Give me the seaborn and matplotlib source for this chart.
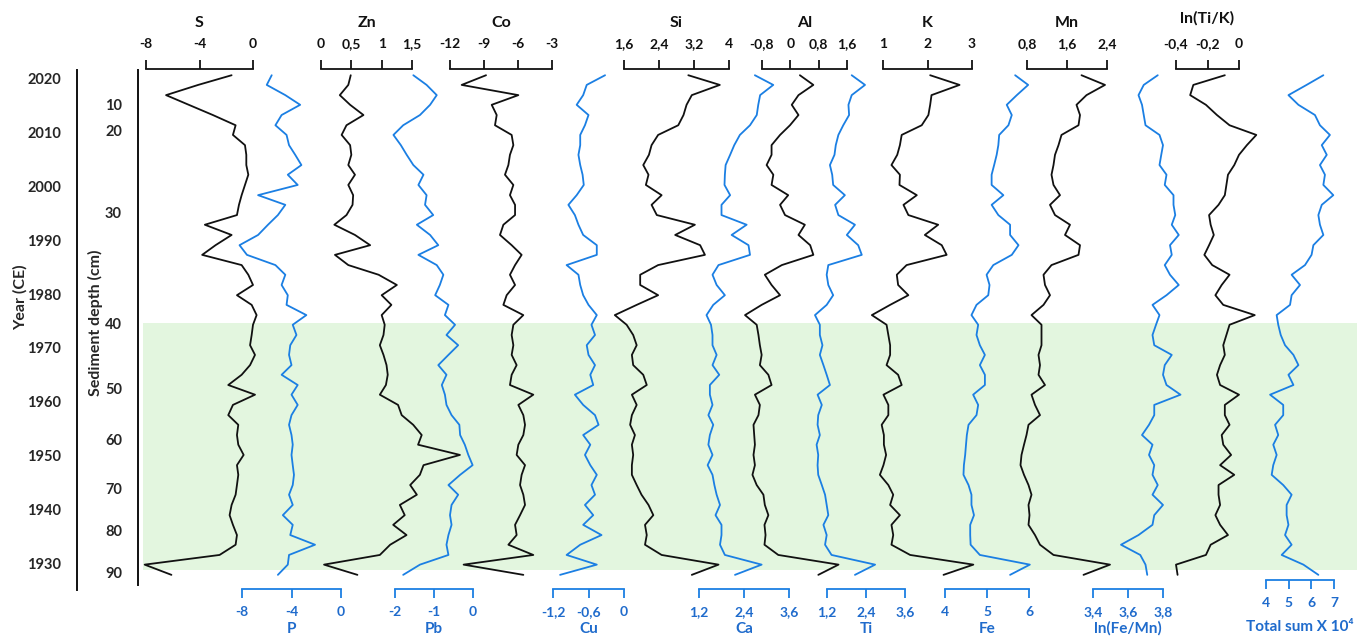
import matplotlib
matplotlib.use("Agg")
import matplotlib.pyplot as plt
import seaborn as sns

# sample ages (year CE) shared by all profiles, top to bottom
years = [2020.7, 2018.9, 2017.0, 2015.2, 2013.3, 2011.4, 2009.6, 2007.7, 2005.9, 2004.0,
         2002.2, 2000.3, 1998.4, 1996.6, 1994.7, 1992.9, 1991.0, 1989.1, 1987.3, 1985.4,
         1983.6, 1981.7, 1979.8, 1978.0, 1976.1, 1974.3, 1972.4, 1970.5, 1968.7, 1966.8,
         1965.0, 1963.1, 1961.3, 1959.4, 1957.5, 1955.7, 1953.8, 1952.0, 1950.1, 1948.2,
         1946.4, 1944.5, 1942.7, 1940.8, 1938.9, 1937.1, 1935.2, 1933.4, 1931.5, 1929.7, 1927.8]

s_vals = [-1.6, -4.1, -6.5, -4.8, -3.0, -1.3, -1.5, -0.6, -0.5, -0.5,
          -0.35, -0.6, -0.85, -1.05, -1.2, -3.6, -1.6, -2.8, -3.8, -0.85,
          -0.35, 0.0, -1.2, -0.1, 0.27, 0.0, -0.1, -0.22, 0.15, -0.22,
          -0.85, -1.85, 0.15, -1.5, -1.85, -1.1, -1.2, -1.1, -0.7, -1.2,
          -1.1, -1.2, -1.3, -1.6, -1.75, -1.5, -1.2, -1.3, -2.5, -8.1, -6.1]
p_vals = [-5.6, -6.0, -4.5, -3.3, -4.8, -5.3, -4.4, -4.2, -3.7, -3.2,
          -4.3, -3.5, -6.7, -4.5, -5.1, -5.9, -6.7, -8.2, -7.6, -5.3,
          -4.5, -4.8, -4.3, -4.4, -2.8, -3.9, -3.6, -4.1, -4.2, -4.0,
          -4.8, -3.5, -4.0, -3.5, -4.0, -4.2, -4.0, -3.9, -4.0, -3.9,
          -3.8, -3.9, -4.2, -3.9, -4.7, -3.9, -4.1, -2.1, -4.2, -4.3, -5.1]
zn_vals = [0.49, 0.45, 0.31, 0.48, 0.70, 0.42, 0.34, 0.48, 0.50, 0.45,
           0.56, 0.45, 0.53, 0.52, 0.42, 0.22, 0.56, 0.81, 0.23, 0.45,
           0.95, 1.25, 1.0, 1.16, 1.0, 1.05, 1.03, 0.97, 1.03, 1.08,
           1.10, 1.07, 0.97, 1.27, 1.33, 1.52, 1.66, 1.60, 2.29, 1.69,
           1.63, 1.47, 1.58, 1.30, 1.38, 1.19, 1.41, 1.14, 0.97, 0.05, 0.6]
pb_vals = [-1.53, -1.19, -0.93, -1.10, -1.36, -1.79, -2.04, -1.85, -1.70, -1.53,
           -1.27, -1.40, -1.19, -1.23, -1.02, -1.44, -1.10, -0.89, -1.40, -0.93,
           -0.76, -0.85, -0.97, -0.63, -0.72, -0.46, -0.68, -0.38, -0.63, -0.89,
           -0.68, -0.80, -0.72, -0.68, -0.55, -0.35, -0.33, -0.21, -0.12, -0.01,
           -0.33, -0.63, -0.38, -0.55, -0.59, -0.55, -0.63, -0.68, -0.63, -1.36, -1.79]
co_vals = [-8.82, -10.97, -5.97, -8.32, -7.88, -8.03, -6.56, -6.41, -6.71, -6.85,
           -7.15, -6.41, -6.71, -6.26, -6.26, -7.29, -7.59, -6.56, -5.68, -6.26,
           -6.71, -6.26, -7.0, -7.29, -5.53, -6.41, -6.56, -6.41, -6.56, -6.12,
           -6.56, -6.71, -4.65, -5.97, -5.53, -5.38, -5.53, -5.97, -6.12, -5.38,
           -5.68, -5.82, -5.53, -5.38, -5.82, -6.26, -6.12, -6.85, -4.65, -10.8, -5.53]
cu_vals = [-0.32, -0.63, -0.69, -0.80, -0.60, -0.66, -0.74, -0.74, -0.77, -0.74,
           -0.70, -0.68, -0.80, -0.94, -0.83, -0.77, -0.69, -0.46, -0.46, -0.97,
           -0.77, -0.74, -0.69, -0.60, -0.46, -0.55, -0.49, -0.63, -0.60, -0.49,
           -0.57, -0.52, -0.83, -0.69, -0.49, -0.43, -0.69, -0.57, -0.66, -0.57,
           -0.46, -0.55, -0.49, -0.66, -0.52, -0.69, -0.38, -0.74, -0.97, -0.46, -1.08]
si_vals = [3.07, 3.79, 3.15, 3.03, 2.96, 2.84, 2.38, 2.23, 2.17, 2.04,
           2.16, 2.10, 2.46, 2.23, 2.35, 3.22, 2.77, 3.34, 3.45, 2.38,
           1.97, 1.97, 2.38, 1.89, 1.39, 1.66, 1.81, 1.89, 1.78, 1.81,
           2.04, 2.12, 1.78, 1.89, 1.78, 1.74, 1.85, 1.78, 1.81, 1.78,
           1.78, 1.89, 2.0, 2.16, 2.27, 2.08, 2.12, 2.08, 2.46, 3.76, 3.15]
ca_vals = [2.69, 3.18, 2.83, 2.78, 2.74, 2.56, 2.29, 2.14, 2.03, 1.91,
           1.89, 1.88, 2.03, 1.80, 1.80, 2.47, 2.07, 2.52, 2.56, 1.72,
           1.56, 1.67, 1.89, 1.58, 1.40, 1.52, 1.56, 1.56, 1.67, 1.56,
           1.74, 1.49, 1.49, 1.56, 1.45, 1.58, 1.49, 1.45, 1.56, 1.43,
           1.56, 1.61, 1.67, 1.76, 1.64, 1.80, 1.80, 1.76, 1.89, 2.87, 2.16]
al_vals = [0.27, 0.65, 0.23, 0.04, 0.23, -0.01, -0.29, -0.53, -0.53, -0.67,
           -0.48, -0.53, -0.06, -0.29, -0.15, 0.41, 0.23, 0.56, 0.65, -0.24,
           -0.72, -0.53, -0.29, -0.81, -1.28, -0.95, -0.90, -0.86, -0.81, -0.86,
           -0.62, -0.53, -1.0, -0.86, -0.90, -1.04, -1.02, -1.0, -1.04, -1.0,
           -1.07, -0.95, -0.76, -0.72, -0.62, -0.73, -0.70, -0.73, -0.34, 1.36, 0.79]
ti_vals = [1.96, 2.37, 1.96, 1.86, 1.88, 1.70, 1.55, 1.47, 1.43, 1.29,
           1.36, 1.39, 1.75, 1.45, 1.55, 2.06, 1.81, 2.16, 2.27, 1.24,
           1.19, 1.24, 1.39, 1.19, 0.83, 0.98, 0.98, 1.06, 0.98, 1.09,
           1.19, 1.29, 0.91, 1.04, 0.93, 0.91, 0.98, 0.88, 0.93, 0.91,
           0.93, 1.04, 1.14, 1.19, 1.24, 1.09, 1.19, 1.14, 1.34, 2.68, 2.06]
k_vals = [2.06, 2.72, 2.09, 2.06, 2.02, 1.87, 1.42, 1.38, 1.32, 1.19,
          1.38, 1.37, 1.76, 1.46, 1.57, 2.24, 1.94, 2.32, 2.43, 1.53,
          1.31, 1.34, 1.57, 1.16, 0.75, 1.08, 1.12, 1.16, 1.16, 1.08,
          1.34, 1.42, 1.01, 1.12, 1.12, 0.97, 1.02, 1.02, 1.07, 1.01,
          0.93, 1.12, 1.23, 1.16, 1.38, 1.19, 1.23, 1.19, 1.61, 3.03, 2.36]
fe_vals = [5.67, 5.98, 5.71, 5.47, 5.59, 5.51, 5.29, 5.27, 5.23, 5.17,
           5.11, 5.11, 5.39, 5.11, 5.27, 5.55, 5.55, 5.75, 5.59, 5.15,
           4.99, 5.06, 5.03, 4.75, 4.63, 4.79, 4.75, 4.83, 4.95, 4.83,
           4.95, 4.95, 4.67, 4.79, 4.75, 4.56, 4.52, 4.50, 4.48, 4.45,
           4.44, 4.56, 4.63, 4.63, 4.69, 4.60, 4.60, 4.61, 4.83, 6.02, 5.55]
mn_vals = [1.89, 2.36, 1.99, 1.79, 1.86, 1.83, 1.49, 1.43, 1.36, 1.33,
           1.29, 1.33, 1.46, 1.26, 1.36, 1.66, 1.56, 1.86, 1.83, 1.29,
           1.13, 1.16, 1.26, 1.13, 0.89, 1.09, 1.09, 1.09, 1.03, 1.06,
           1.03, 1.16, 0.89, 0.96, 1.06, 0.83, 0.79, 0.74, 0.69, 0.67,
           0.74, 0.83, 0.89, 0.83, 0.85, 0.83, 0.96, 1.06, 1.33, 2.46, 1.93]
fe_mn_vals = [3.77, 3.69, 3.66, 3.68, 3.69, 3.70, 3.78, 3.80, 3.79, 3.78,
              3.82, 3.81, 3.86, 3.86, 3.87, 3.85, 3.89, 3.84, 3.85, 3.81,
              3.84, 3.89, 3.82, 3.74, 3.78, 3.76, 3.74, 3.75, 3.85, 3.81,
              3.80, 3.82, 3.90, 3.75, 3.75, 3.72, 3.68, 3.74, 3.72, 3.75,
              3.74, 3.77, 3.74, 3.80, 3.75, 3.74, 3.66, 3.56, 3.67, 3.70, 3.71]
ti_k_vals = [-0.09, -0.29, -0.31, -0.21, -0.14, -0.06, 0.11, 0.05, 0.0, -0.03,
             -0.07, -0.08, -0.09, -0.13, -0.19, -0.18, -0.16, -0.19, -0.22, -0.17,
             -0.06, -0.11, -0.15, -0.10, 0.10, -0.06, -0.08, -0.10, -0.09, -0.12,
             -0.14, -0.12, 0.0, -0.09, -0.09, -0.06, -0.11, -0.10, -0.05, -0.12,
             -0.03, -0.13, -0.13, -0.12, -0.15, -0.12, -0.07, -0.18, -0.21, -0.40, -0.39]
total_vals = [6.53, 5.79, 4.99, 5.43, 6.16, 6.38, 6.82, 6.46, 6.68, 6.38,
              6.60, 6.53, 6.97, 6.46, 6.31, 6.38, 6.53, 6.09, 6.01, 5.72,
              5.13, 5.50, 5.13, 5.06, 4.47, 4.54, 4.65, 4.84, 5.21, 5.43,
              4.99, 5.21, 4.18, 4.76, 4.76, 4.40, 4.54, 4.32, 4.47, 4.32,
              4.25, 4.76, 5.13, 4.91, 4.91, 4.99, 4.84, 5.13, 4.69, 5.65, 6.31]

# axis ticks
year_ticks = [1930, 1940, 1950, 1960, 1970, 1980, 1990, 2000, 2010, 2020]
depth_labels = [10, 20, 30, 40, 50, 60, 70, 80, 90]
depth_tick_years = [2015.35, 2010.5, 1995.1, 1974.6, 1962.4, 1952.9, 1943.9, 1936.1, 1928.3]
band_years = (1928.7, 1974.6)  # shaded interval (40-90 cm)

s_ticks = [-8, -4, 0]
zn_ticks = [0, 0.5, 1, 1.5]
co_ticks = [-12, -9, -6, -3]
si_ticks = [1.6, 2.4, 3.2, 4]
al_ticks = [-0.8, 0, 0.8, 1.6]
k_ticks = [1, 2, 3]
mn_ticks = [0.8, 1.6, 2.4]
ti_k_ticks = [-0.4, -0.2, 0]
p_ticks = [-8, -4, 0]
pb_ticks = [-2, -1, 0]
cu_ticks = [-1.2, -0.6, 0]
ca_ticks = [1.2, 2.4, 3.6]
ti_ticks = [1.2, 2.4, 3.6]
fe_ticks = [4, 5, 6]
fe_mn_ticks = [3.4, 3.6, 3.8]
total_ticks = [4, 5, 6, 7]

sns.set_style("white")
plt.rcParams["font.family"] = ["Lato", "DejaVu Sans"]
plt.rcParams["font.weight"] = "bold"

W, H = 1357, 637
TOP, BOTTOM = 69, 589
PX_PER_YEAR = 5.378
BLACK = "#111111"
BLUE = "#1b7fe3"
BLUE_TXT = "#1f6bcc"
GREEN = "#e3f6df"


def px_to_year(y):
    return 2020 - (y - 79) / PX_PER_YEAR


YLIM = (px_to_year(BOTTOM), px_to_year(TOP))

fig = plt.figure(figsize=(W / 100, H / 100), dpi=100)


def add_px_axes(x0, x1, y0=TOP, y1=BOTTOM):
    ax = fig.add_axes([x0 / W, 1 - y1 / H, (x1 - x0) / W, (y1 - y0) / H])
    ax.set_facecolor("none")
    ax.set_ylim(*YLIM)
    return ax


def fmt(v):
    return f"{v:g}".replace(".", ",")


# shaded interval
bg = add_px_axes(143, W)
bg.axhspan(band_years[0], band_years[1], color=GREEN, lw=0)
bg.set_xlim(0, 1)
bg.axis("off")

# year and depth axes
for x_px, ticks, labels, y_end in [(77, year_ticks, [str(t) for t in year_ticks], 590),
                                   (138, depth_tick_years, [str(d) for d in depth_labels], 585)]:
    ax = add_px_axes(x_px, x_px + 1)
    for side in ["top", "right", "bottom"]:
        ax.spines[side].set_visible(False)
    ax.spines["left"].set_bounds(px_to_year(y_end), px_to_year(70))
    ax.spines["left"].set_linewidth(1.4)
    ax.spines["left"].set_color(BLACK)
    ax.set_xticks([])
    ax.set_yticks(ticks)
    ax.set_yticklabels(labels)
    ax.tick_params(axis="y", direction="out", length=6.5, width=1.3, color=BLACK,
                   labelsize=10.5, pad=5)

fig.text(20 / W, 1 - 297 / H, "Year (CE)", rotation=90, ha="center", va="center",
         fontsize=11.5, fontweight="bold")
fig.text(95 / W, 1 - 323 / H, "Sediment depth (cm)", rotation=90, ha="center",
         va="center", fontsize=11.5, fontweight="bold")

# name, values, ticks, scale pixel span, side
panels = [
    ("S", s_vals, s_ticks, 146, 253, "top"),
    ("Zn", zn_vals, zn_ticks, 321, 412, "top"),
    ("Co", co_vals, co_ticks, 450, 552, "top"),
    ("Si", si_vals, si_ticks, 624, 729, "top"),
    ("Al", al_vals, al_ticks, 762, 847, "top"),
    ("K", k_vals, k_ticks, 883, 972, "top"),
    ("Mn", mn_vals, mn_ticks, 1027, 1107, "top"),
    ("ln(Ti/K)", ti_k_vals, ti_k_ticks, 1176, 1239, "top"),
    ("P", p_vals, p_ticks, 242, 341, "bottom"),
    ("Pb", pb_vals, pb_ticks, 395, 473, "bottom"),
    ("Cu", cu_vals, cu_ticks, 553, 624, "bottom"),
    ("Ca", ca_vals, ca_ticks, 699, 789, "bottom"),
    ("Ti", ti_vals, ti_ticks, 827, 905, "bottom"),
    ("Fe", fe_vals, fe_ticks, 945, 1029, "bottom"),
    ("ln(Fe/Mn)", fe_mn_vals, fe_mn_ticks, 1093, 1163, "bottom"),
    ("Total sum X 10\u2074", total_vals, total_ticks, 1266, 1334, "bottom"),
]

for name, vals, ticks, x0, x1, side in panels:
    color = BLACK if side == "top" else BLUE
    txt_color = BLACK if side == "top" else BLUE_TXT
    is_total = name.startswith("Total")
    ax = add_px_axes(x0, x1)
    sns.lineplot(x=vals, y=years, orient="y", estimator=None, sort=False,
                 color=color, lw=1.3, clip_on=False, legend=False, ax=ax)
    ax.set_xlim(ticks[0], ticks[-1])
    ax.set_ylim(*YLIM)
    ax.set_xlabel("")
    ax.set_ylabel("")
    ax.set_yticks([])
    for sp in ["top", "bottom", "left", "right"]:
        ax.spines[sp].set_visible(sp == side)
    spine = ax.spines[side]
    spine.set_bounds(ticks[0], ticks[-1])
    spine.set_linewidth(1.3)
    spine.set_color(color)
    if is_total:
        spine.set_position(("outward", -6.5))
    ax.xaxis.set_ticks_position(side)
    ax.set_xticks(ticks)
    ax.set_xticklabels([fmt(t) for t in ticks])
    ax.tick_params(axis="x", direction="out", length=6.5, width=1.3, color=color,
                   labelcolor=txt_color, labelsize=10, pad=6 if side == "bottom" else 7)
    xc = (x0 + x1) / 2 / W
    if side == "top":
        y_title = 18 if name.startswith("ln") else 23
        fig.text(xc, 1 - y_title / H, name, ha="center", va="center",
                 fontsize=11.5, fontweight="bold", color=txt_color)
    else:
        y_title = 634 if is_total else 636
        fig.text(xc, 1 - y_title / H, name, ha="center", va="bottom",
                 fontsize=11, fontweight="bold", color=txt_color)

fig.savefig("out.png", dpi=100)
